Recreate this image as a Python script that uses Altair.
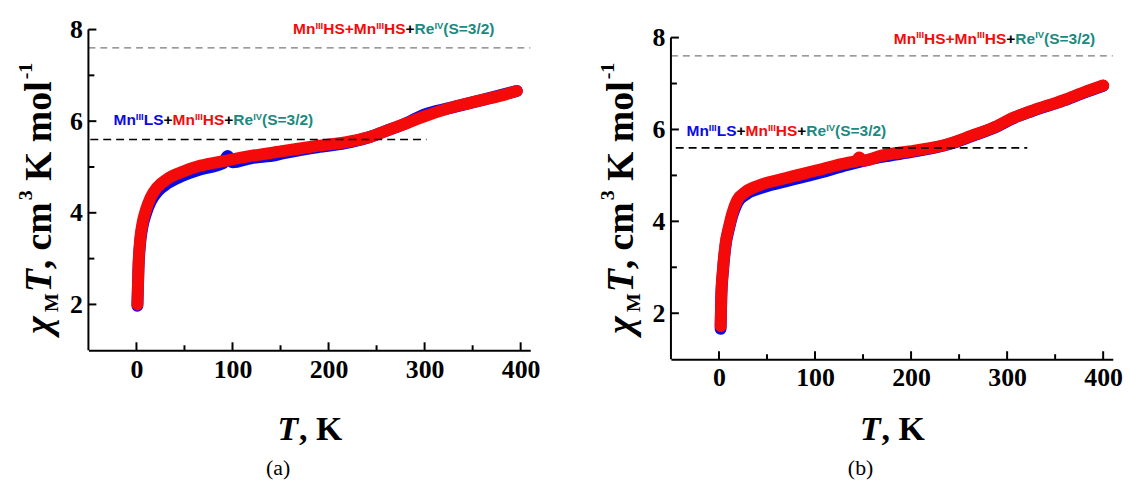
import altair as alt
import pandas as pd

# ---------------- data ----------------
# panel (a)
a_red_T = [1.0, 2.1, 3.8, 6.2, 9.7, 14.9, 21.8, 32.2, 46, 66.9, 91, 119, 153.5, 188, 222.8, 243.6, 257.5, 278, 299, 326.7, 361.4, 380, 396]
a_red_v = [2.00, 2.83, 3.40, 3.76, 4.05, 4.34, 4.56, 4.74, 4.88, 5.03, 5.13, 5.24, 5.35, 5.46, 5.56, 5.66, 5.77, 5.93, 6.10, 6.29, 6.47, 6.56, 6.66]
a_blue_T = [1.0, 2.1, 3.8, 6.2, 9.7, 14.9, 21.8, 32.2, 46, 66.9, 90, 95, 100, 119, 145, 153.5, 188, 222.8, 243.6, 257.5, 278, 299, 326.7, 361.4, 396]
a_blue_v = [1.97, 2.78, 3.33, 3.69, 3.97, 4.25, 4.46, 4.64, 4.79, 4.95, 5.08, 5.24, 5.10, 5.19, 5.26, 5.30, 5.43, 5.54, 5.66, 5.77, 5.93, 6.14, 6.29, 6.47, 6.66]
# panel (b)
b_red_T = [1.7, 2.4, 4.1, 6.9, 10.4, 13.8, 19, 27.6, 41.5, 65.6, 100, 134.7, 143, 146, 150, 169, 203.8, 238, 262.5, 290, 307, 324.7, 359, 380, 400]
b_red_v = [1.72, 2.37, 2.94, 3.52, 3.88, 4.17, 4.46, 4.64, 4.78, 4.92, 5.10, 5.28, 5.31, 5.39, 5.32, 5.43, 5.54, 5.68, 5.86, 6.08, 6.26, 6.40, 6.64, 6.81, 6.96]
b_blue_T = [1.7, 2.4, 4.1, 6.9, 10.4, 13.8, 19, 27.6, 41.5, 65.6, 100, 134.7, 169, 203.8, 238, 262.5, 290, 307, 324.7, 359, 380, 400]
b_blue_v = [1.66, 2.33, 2.90, 3.48, 3.84, 4.12, 4.40, 4.58, 4.71, 4.85, 5.03, 5.23, 5.40, 5.52, 5.67, 5.85, 6.07, 6.25, 6.39, 6.63, 6.80, 6.95]

# reference levels
level_high = 7.6   # Mn(III)HS + Mn(III)HS + Re(IV)
level_low = 5.6    # Mn(III)LS + Mn(III)HS + Re(IV)
a_low_range = [-48, 302]
b_low_range = [-45, 321]
high_range = [-50, 410]

x_ticks_major = [0, 100, 200, 300, 400]
x_ticks_minor = [50, 150, 250, 350]
y_ticks_major = [2, 4, 6, 8]
y_ticks_minor = [3, 5, 7]

# annotation anchors (T, value)
a_low_anchor = (-23.9, 5.91)
a_high_anchor = (163.0, 7.90)
b_low_anchor = (-33.8, 5.85)
b_high_anchor = (182.0, 7.87)

BLUE = "#0a0ae6"
RED = "#f50a0a"
TEAL = "#1a8a80"
BLACK = "#000000"

low_segments = [("Mn", BLUE, False), ("III", BLUE, True), ("LS", BLUE, False), ("+", BLACK, False),
                ("Mn", RED, False), ("III", RED, True), ("HS", RED, False), ("+", BLACK, False),
                ("Re", TEAL, False), ("IV", TEAL, True), ("(S=3/2)", TEAL, False)]
high_segments = [("Mn", RED, False), ("III", RED, True), ("HS", RED, False), ("+", RED, False),
                 ("Mn", RED, False), ("III", RED, True), ("HS", RED, False), ("+", BLACK, False),
                 ("Re", TEAL, False), ("IV", TEAL, True), ("(S=3/2)", TEAL, False)]

# ---------------- helpers ----------------
SANS_W = {'M': .833, 'n': .611, 'L': .611, 'S': .667, 'H': .722, 'R': .722, 'e': .556, '+': .584,
          '(': .333, ')': .333, '=': .584, '3': .556, '/': .278, '2': .556, 'I': .278, 'V': .667}
SERIF_W = {'χ': .55, 'M': .944, 'T': .611, ',': .25, ' ': .25, 'c': .444, 'm': .833, '3': .5,
           'K': .778, 'o': .5, 'l': .278, '-': .333, '1': .5}
ONE = pd.DataFrame({"k": [0]})
SERIF = "Liberation Serif"
SANS = "Liberation Sans"
W = 445


def curve(T, v, color):
    df = pd.DataFrame({"T": T, "v": v})
    return alt.Chart(df).mark_line(color=color, strokeWidth=12, strokeCap="round",
                                   strokeJoin="round", interpolate="monotone").encode(x="T:Q", y="v:Q")


def base_axes(ymax, H):
    df = pd.DataFrame({"T": [a_red_T[0]], "v": [a_red_v[0]]})
    return alt.Chart(df).mark_point(opacity=0).encode(
        x=alt.X("T:Q", scale=alt.Scale(domain=[-50, 410], nice=False, zero=False),
                axis=alt.Axis(values=x_ticks_major, title=None, grid=False, ticks=False,
                              domainColor="black", domainWidth=2, labelFont=SERIF,
                              labelFontWeight="bold", labelFontSize=26, labelColor="black",
                              labelPadding=6)),
        y=alt.Y("v:Q", scale=alt.Scale(domain=[1, ymax], nice=False, zero=False),
                axis=alt.Axis(values=y_ticks_major, title=None, grid=False, ticks=False,
                              domain=False, labelFont=SERIF, labelFontWeight="bold",
                              labelFontSize=26, labelColor="black", labelPadding=6)))


def ticks(H):
    out = []
    out.append(alt.Chart(pd.DataFrame({"T": x_ticks_major})).mark_rule(color="black", strokeWidth=2)
               .encode(x="T:Q", y=alt.value(H), y2=alt.value(H - 8)))
    out.append(alt.Chart(pd.DataFrame({"T": x_ticks_minor})).mark_rule(color="black", strokeWidth=2)
               .encode(x="T:Q", y=alt.value(H), y2=alt.value(H - 5)))
    out.append(alt.Chart(pd.DataFrame({"v": y_ticks_major})).mark_rule(color="black", strokeWidth=2)
               .encode(y="v:Q", x=alt.value(0), x2=alt.value(8)))
    out.append(alt.Chart(pd.DataFrame({"v": y_ticks_minor})).mark_rule(color="black", strokeWidth=2)
               .encode(y="v:Q", x=alt.value(0), x2=alt.value(6)))
    # y axis line from 1 to 8
    out.append(alt.Chart(ONE).mark_rule(color="black", strokeWidth=2)
               .encode(x=alt.value(0), y=alt.datum(1), y2=alt.datum(8)))
    return out


def hline(level, rng, color, dash, width):
    df = pd.DataFrame({"x1": [rng[0]], "x2": [rng[1]], "v": [level]})
    return alt.Chart(df).mark_rule(color=color, strokeDash=dash, strokeWidth=width).encode(
        x="x1:Q", x2="x2:Q", y="v:Q")


def text_run(segs, anchor, main=15.6, sup=9.5, sup_dy=-5.5):
    layers = []
    off = 0.0
    for txt, col, is_sup in segs:
        size = sup if is_sup else main
        layers.append(alt.Chart(ONE).mark_text(
            text=txt, font=SANS, fontWeight="bold", fontSize=size, color=col,
            align="left", baseline="alphabetic", dx=off, dy=(sup_dy if is_sup else 0)
        ).encode(x=alt.datum(anchor[0]), y=alt.datum(anchor[1])))
        off += sum(SANS_W.get(c, .6) for c in txt) * size
    return layers


def y_title(x_px, center_px):
    F, FS = 38, 20
    pieces = [("χ", F, "italic", 0, 0), ("M", FS, "normal", 7, 1), ("T", F, "italic", 0, 1),
              (", cm", F, "normal", 0, 0), ("3", FS, "normal", -19, 2),
              ("K mol", F, "normal", 0, .25 * F), ("-1", FS, "normal", -19, 2)]
    total = sum(sum(SERIF_W[c] for c in t) * s + pre for t, s, _, _, pre in pieces)
    start = center_px + total / 2
    layers = []
    off = 0.0
    for t, s, style, dy, pre in pieces:
        off += pre
        layers.append(alt.Chart(ONE).mark_text(
            text=t, font=SERIF, fontWeight="bold", fontStyle=style, fontSize=s, color="black",
            angle=270, align="left", baseline="alphabetic", dx=off, dy=dy
        ).encode(x=alt.value(x_px), y=alt.value(start)))
        off += sum(SERIF_W[c] for c in t) * s
    return layers


def x_title(y_px):
    F = 34
    wT = SERIF_W['T'] * F
    wR = (0.25 + 0.25 + 0.778) * F
    x0 = W / 2 - (wT + wR) / 2
    return [
        alt.Chart(ONE).mark_text(text="T", font=SERIF, fontWeight="bold", fontStyle="italic",
                                 fontSize=F, align="left", baseline="alphabetic", color="black")
        .encode(x=alt.value(x0), y=alt.value(y_px)),
        alt.Chart(ONE).mark_text(text=", K", font=SERIF, fontWeight="bold", fontSize=F,
                                 align="left", baseline="alphabetic", color="black")
        .encode(x=alt.value(x0 + wT + 1), y=alt.value(y_px)),
    ]


def caption(txt, y_px):
    return alt.Chart(ONE).mark_text(text=txt, font=SERIF, fontSize=22, align="center",
                                    baseline="alphabetic", color="black").encode(
        x=alt.value(191), y=alt.value(y_px))


def marker(x_px, y_px):
    return alt.Chart(ONE).mark_text(text=".", opacity=0, align="left", baseline="top",
                                    fontSize=4).encode(x=alt.value(x_px), y=alt.value(y_px))


def panel(red_T, red_v, blue_T, blue_v, low_rng, low_anchor, high_anchor, ymax, H, cap, extra):
    layers = [base_axes(ymax, H), curve(blue_T, blue_v, BLUE), curve(red_T, red_v, RED),
              hline(level_high, high_range, "#7a7a7a", [7, 5], 1.2),
              hline(level_low, low_rng, "black", [8, 5], 1.6)]
    layers += ticks(H)
    layers += text_run(low_segments, low_anchor)
    layers += text_run(high_segments, high_anchor)
    layers += y_title(-38, 170)
    layers += x_title(413.4)
    layers.append(caption(cap, 449))
    layers += extra
    return alt.layer(*layers).properties(width=W, height=H)


HA = 323
HB = 332
pa = panel(a_red_T, a_red_v, a_blue_T, a_blue_v, a_low_range, a_low_anchor, a_high_anchor,
           8.0, HA, "(a)", [marker(-80.3, -19.6)])
pb = panel(b_red_T, b_red_v, b_blue_T, b_blue_v, b_low_range, b_low_anchor, b_high_anchor,
           8.0 + 8.1 / 46.3, HB, "(b)", [])

chart = alt.hconcat(pa, pb, spacing=141.7, bounds="flush").properties(
    padding=0).configure_view(stroke=None)

chart.save("out.html", embed_options={"renderer": "svg", "actions": False})
